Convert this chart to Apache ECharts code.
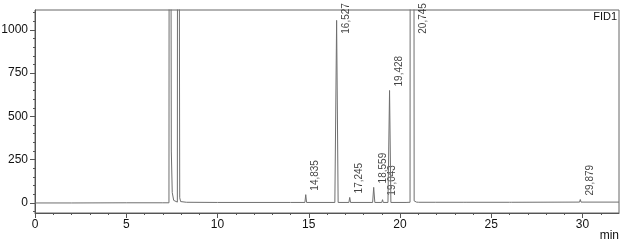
<!DOCTYPE html>
<html>
<head>
<meta charset="utf-8">
<script src="https://cdn.jsdelivr.net/npm/echarts@6/dist/echarts.min.js"></script>
<style>html,body{margin:0;padding:0;background:#fff}#c{width:624px;height:246px}</style>
</head>
<body>
<div id="c"></div>
<script>
// Retention time (min) and detector signal
const times  = [0, 2, 5, 7.0, 7.34, 7.38, 7.44, 7.47, 7.52, 7.6, 7.7, 7.80, 7.83, 7.90, 7.93, 7.98, 8.3, 10, 14,
  14.79, 14.835, 14.88,
  16.43, 16.527, 16.61,
  17.2, 17.245, 17.29,
  18.5, 18.559, 18.62,
  19.0, 19.043, 19.08,
  19.34, 19.428, 19.5,
  20.22, 20.27, 20.33,
  20.55, 20.58, 20.74, 20.775, 20.82,
  20.9, 20.95, 21.02,
  21.96, 22.01, 22.06,
  23.5, 23.56, 23.62,
  26.0, 26.06, 26.12,
  29.84, 29.879, 29.92,
  32];
const signal = [0, 0, 1, 1, 1, 6000, 6000, 300, 60, 15, 6, 5, 6000, 6000, 30, 8, 4, 3, 3,
  3, 48, 3,
  3, 1055, 3,
  3, 32, 3,
  3, 90, 3,
  3, 19, 3,
  3, 650, 3,
  3, 10, 3,
  4, 6000, 6000, 12, 6,
  5, 12, 4,
  4, 8, 4,
  4, 7, 4,
  4, 6, 4,
  5, 20, 5,
  5];

// Integrated peak annotations
const peakTimes   = [14.835, 16.527, 17.245, 18.559, 19.043, 19.428, 20.745, 29.879];
const peakHeights = [48, 1055, 32, 90, 19, 650, 6000, 20];
const peakLabels  = ['14,835', '16,527', '17,245', '18,559', '19,043', '19,428', '20,745', '29,879'];

// Axis ticks
const xMajorTicks = [0, 5, 10, 15, 20, 25, 30];
const xMinorTicks = [0,1,2,3,4,5,6,7,8,9,10,11,12,13,14,15,16,17,18,19,20,21,22,23,24,25,26,27,28,29,30,31];
const yMajorTicks = [0, 250, 500, 750, 1000];
const yMinorTicks = [-50,0,50,100,150,200,250,300,350,400,450,500,550,600,650,700,750,800,850,900,950,1000,1050,1100];

const X_MIN = 0, X_MAX = 32, Y_MIN = -58, Y_MAX = 1115;
const LABEL_CAP = 955;
const FONT = '"Liberation Sans", Arial, sans-serif';

const chart = echarts.init(document.getElementById('c'), null, {renderer: 'canvas'});
const axisColor = '#555';
chart.setOption({
  animation: false,
  backgroundColor: '#fff',
  grid: {left: 35, top: 10, right: 5, bottom: 33, containLabel: false, outerBoundsMode: 'none',
         show: true, borderColor: '#666', borderWidth: 1, backgroundColor: 'transparent'},
  xAxis: [{
    type: 'value', min: X_MIN, max: X_MAX, position: 'bottom',
    axisLine: {show: true, onZero: false, lineStyle: {color: axisColor}},
    axisTick: {show: true, customValues: xMajorTicks, length: 5, lineStyle: {color: axisColor}},
    axisLabel: {show: true, customValues: xMajorTicks, margin: 6, color: '#111', fontSize: 12, fontFamily: FONT,
                formatter: v => String(v)},
    splitLine: {show: false}
  }, {
    type: 'value', min: X_MIN, max: X_MAX, position: 'bottom',
    axisLine: {show: false, onZero: false},
    axisTick: {show: true, customValues: xMinorTicks, length: 2, lineStyle: {color: axisColor}},
    axisLabel: {show: false},
    splitLine: {show: false}
  }],
  yAxis: [{
    type: 'value', min: Y_MIN, max: Y_MAX, position: 'left',
    axisLine: {show: true, onZero: false, lineStyle: {color: axisColor}},
    axisTick: {show: true, customValues: yMajorTicks, length: 5, lineStyle: {color: axisColor}},
    axisLabel: {show: true, customValues: yMajorTicks, margin: 7, color: '#111', fontSize: 12, fontFamily: FONT,
                formatter: v => String(v)},
    splitLine: {show: false}
  }, {
    type: 'value', min: Y_MIN, max: Y_MAX, position: 'left',
    axisLine: {show: false, onZero: false},
    axisTick: {show: true, customValues: yMinorTicks, length: 2, lineStyle: {color: axisColor}},
    axisLabel: {show: false},
    splitLine: {show: false}
  }],
  series: [{
    type: 'line',
    xAxisIndex: 0, yAxisIndex: 0,
    data: times.map((t, i) => [t, signal[i]]),
    showSymbol: false, symbol: 'none', clip: true, silent: true,
    lineStyle: {color: '#6f6f6f', width: 1}
  }, {
    type: 'scatter',
    xAxisIndex: 0, yAxisIndex: 0,
    data: peakTimes.map((t, i) => [t, Math.min(peakHeights[i], LABEL_CAP)]),
    symbolSize: 0, silent: true,
    label: {
      show: true,
      formatter: p => peakLabels[p.dataIndex],
      rotate: 90, position: [10, -4], align: 'left', verticalAlign: 'middle',
      color: '#111', fontSize: 10, fontFamily: FONT
    }
  }],
  graphic: [{
    type: 'text', right: 7, top: 11,
    style: {text: 'FID1', fill: '#111', font: '11px ' + FONT}
  }, {
    type: 'text', right: 5, top: 230,
    style: {text: 'min', fill: '#111', font: '12px ' + FONT}
  }]
});
</script>
</body>
</html>
